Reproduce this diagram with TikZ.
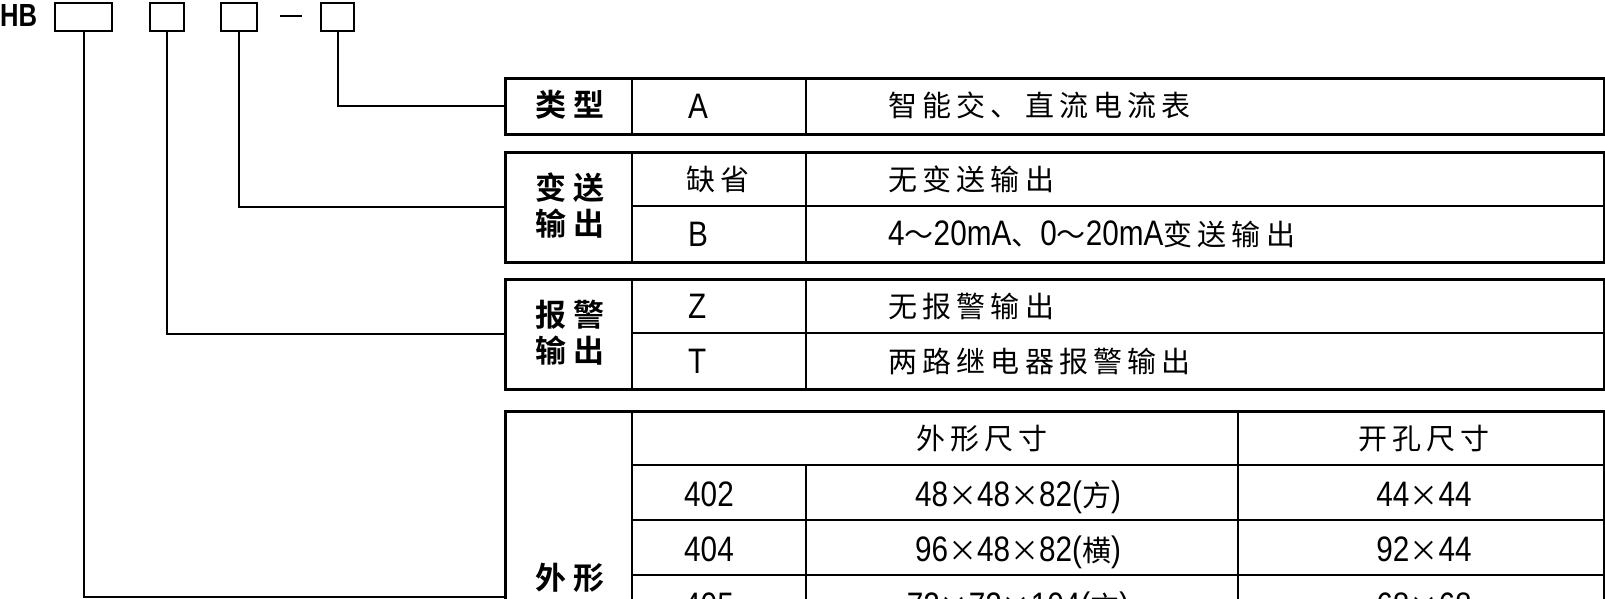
\documentclass[tikz,border=0pt]{standalone}
\usepackage{fontspec}
\newfontfamily\cj[LetterSpace=18]{Noto Sans CJK SC}
\newfontfamily\cjb[LetterSpace=24]{Noto Sans CJK SC Bold}
\newfontfamily\lt[FakeStretch=0.84,Scale=1.22]{Liberation Sans}
\newfontfamily\hbf[FakeStretch=0.8]{Liberation Sans Bold}
\begin{document}
\begin{tikzpicture}[x=1pt,y=-1pt,
  cbox/.style={draw,line width=2.4pt,inner sep=0pt,anchor=north west},
  tbl/.style={draw,line width=2.6pt,inner sep=0pt,anchor=north west},
  grid/.style={line width=2.6pt},
  conn/.style={line width=2.2pt},
  lab/.style={inner sep=0pt,align=center,font=\cjb\fontsize{31}{36}\selectfont},
  lft/.style={inner sep=0pt,anchor=base west,font=\fontsize{29}{34}\selectfont},
  ctr/.style={inner sep=0pt,anchor=base,font=\fontsize{29}{34}\selectfont},
  ]
\useasboundingbox (0,0) rectangle (1605,599);
\clip (0,0) rectangle (1605,599);
% code line
\node[inner sep=0pt,anchor=west,font=\hbf\fontsize{32}{32}\selectfont] (hb) at (0,15) {HB};
\node[cbox,minimum width=57pt,minimum height=28pt] (b1) at (54,2) {};
\node[cbox,minimum width=34pt,minimum height=28pt] (b2) at (149,2) {};
\node[cbox,minimum width=36pt,minimum height=28pt] (b3) at (220,2) {};
\node[cbox,minimum width=33pt,minimum height=28pt] (b4) at (320,2) {};
\draw[line width=2.6pt] (280,16) -- (302,16);
% tables (outer frames)
\node[tbl,minimum width=1099pt,minimum height=56pt] (t1) at (504,77) {};
\node[tbl,minimum width=1099pt,minimum height=110pt] (t2) at (504,151) {};
\node[tbl,minimum width=1099pt,minimum height=110pt] (t3) at (504,278) {};
\node[tbl,minimum width=1099pt,minimum height=300pt] (t4) at (504,410) {};
\coordinate (e1) at (504,597);
% connectors
\draw[conn] (b4.south) |- (t1.west);
\draw[conn] (b3.south) |- (t2.west);
\draw[conn] (b2.south) |- (t3.west);
\draw[conn] (b1.south) |- (e1);
% inner grid lines
\draw[grid] (632,77) -- (632,133) (806,77) -- (806,133);
\draw[grid] (632,151) -- (632,261) (806,151) -- (806,261) (632,206) -- (1603,206);
\draw[grid] (632,278) -- (632,388) (806,278) -- (806,388) (632,333) -- (1603,333);
\draw[grid] (632,410) -- (632,710) (1238,410) -- (1238,710) (806,465) -- (806,710)
  (632,465) -- (1603,465) (632,520) -- (1603,520) (632,575) -- (1603,575) (632,630) -- (1603,630);
% labels
\node[lab] (l1) at (570,105) {类型};
\node[lab] (l2) at (570,206) {变送\\输出};
\node[lab] (l3) at (570,333) {报警\\输出};
\node[lab] (l4) at (570,578) {外形};
% table 1
\node[lft] (a1) at (688,118) {\lt A};
\node[lft] (a2) at (888,117) {\cj 智能交、直流电流表};
% table 2
\node[lft] (c1) at (686,190) {\cj 缺省};
\node[lft] (c2) at (888,190) {\cj 无变送输出};
\node[lft] (c3) at (688,246) {\lt B};
\node[lft] (c4) at (888,245.5) {{\lt 4}{\cj ～}{\lt 20mA}{\cj 、}{\lt 0}{\cj ～}{\lt 20mA}{\cj 变送输出}};
% table 3
\node[lft] (d1) at (688,318) {\lt Z};
\node[lft] (d2) at (888,317) {\cj 无报警输出};
\node[lft] (d3) at (688,373) {\lt T};
\node[lft] (d4) at (888,372) {\cj 两路继电器报警输出};
% table 4
\node[ctr] (h1) at (982,449) {\cj 外形尺寸};
\node[ctr] (h2) at (1424,449) {\cj 开孔尺寸};
\node[lft] (r1) at (684,506) {\lt 402};
\node[ctr] (r1b) at (1018,506) {{\lt 48}{\cj ×}{\lt 48}{\cj ×}{\lt 82(}{\cj 方}{\lt )}};
\node[ctr] (r1c) at (1424,506) {{\lt 44}{\cj ×}{\lt 44}};
\node[lft] (r2) at (684,561) {\lt 404};
\node[ctr] (r2b) at (1018,561) {{\lt 96}{\cj ×}{\lt 48}{\cj ×}{\lt 82(}{\cj 横}{\lt )}};
\node[ctr] (r2c) at (1424,561) {{\lt 92}{\cj ×}{\lt 44}};
\node[lft] (r3) at (684,617) {\lt 405};
\node[ctr] (r3b) at (1018,617) {{\lt 72}{\cj ×}{\lt 72}{\cj ×}{\lt 104(}{\cj 方}{\lt )}};
\node[ctr] (r3c) at (1424,617) {{\lt 68}{\cj ×}{\lt 68}};
\end{tikzpicture}
\end{document}
